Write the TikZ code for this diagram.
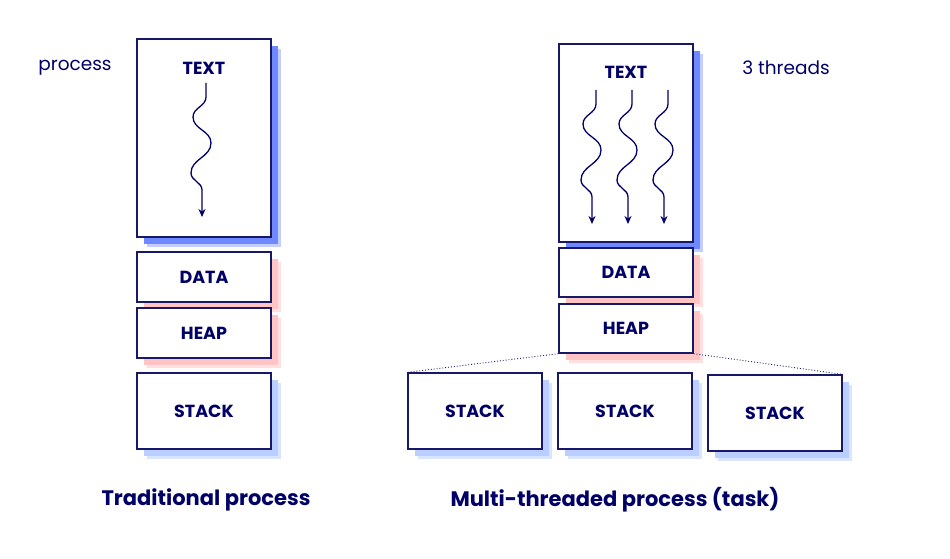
\documentclass[tikz,border=0pt]{standalone}
\usepackage{fontspec}
\setmainfont{Poppins}
\usepackage{tikz}
\usetikzlibrary{arrows.meta,positioning,shadows}
\definecolor{segNavy}{RGB}{0,0,102}
\definecolor{segEdge}{RGB}{24,24,104}
\definecolor{shadeBlue}{RGB}{85,115,255}
\definecolor{shadePink}{RGB}{255,196,196}
\definecolor{shadeSky}{RGB}{186,206,255}

\tikzset{
  seg/.style={draw=segEdge, line width=1.3pt, fill=white, text=segNavy, font=\bfseries\fontsize{17.5}{20}\selectfont, minimum width=134pt},
  textseg/.style={seg, minimum height=198pt, general shadow={fill=shadeBlue!35, shadow xshift=10pt, shadow yshift=-10pt}, general shadow={fill=shadeBlue!85, shadow xshift=7pt, shadow yshift=-7pt}},
  dataseg/.style={seg, minimum height=50pt, general shadow={fill=shadePink!55, shadow xshift=10pt, shadow yshift=-10pt}, general shadow={fill=shadePink, shadow xshift=7pt, shadow yshift=-7pt}},
  stackseg/.style={seg, minimum height=76pt, general shadow={fill=shadeSky!55, shadow xshift=10pt, shadow yshift=-10pt}, general shadow={fill=shadeSky, shadow xshift=7pt, shadow yshift=-7pt}},
  thread/.pic={
    \draw[segNavy, line width=1.3pt, -{Stealth[length=8pt,width=7pt]}] (0,0) -- (0,-14)
      to[out=-90,in=90] (-13,-34) to[out=-90,in=90] (5,-60)
      to[out=-90,in=90] (-15,-90) to[out=-90,in=90] (-4,-107) -- (-4,-134);
  },
  note/.style={text=segNavy, font=\fontsize{18.5}{22}\selectfont},
  caption/.style={text=segNavy, font=\bfseries\fontsize{21}{25}\selectfont}
}

\begin{document}
\begin{tikzpicture}[x=1pt, y=1pt]
  \useasboundingbox (0,0) rectangle (950,558);

  % traditional process
  \node[textseg] (text1) at (204,420) {};
  \node[dataseg] (data1) at (204,281) {DATA};
  \node[dataseg] (heap1) at (204,225) {HEAP};
  \node[stackseg] (stack1) at (204,147) {STACK};
  \node[seg, draw=none, fill=none] (textlbl1) at (204,490) {TEXT};
  \pic at (206,475) {thread};
  \node[note] (proc) at (75,490) {process};
  \node[caption] (cap1) at (206,58) {Traditional process};

  % multi-threaded process
  \node[textseg] (text2) at (626,415) {};
  \node[dataseg, minimum height=49pt] (data2) at (626,285.5) {DATA};
  \node[dataseg, minimum height=49pt] (heap2) at (626,229.5) {HEAP};
  \node[stackseg] (stackA) at (475,147) {STACK};
  \node[stackseg] (stackB) at (625,147) {STACK};
  \node[stackseg] (stackC) at (775,145) {STACK};
  \node[seg, draw=none, fill=none] (textlbl2) at (626,486) {TEXT};
  \foreach \tx in {596,632,668}
    \pic at (\tx,468) {thread};
  \draw[segEdge, dotted, line width=0.9pt] (heap2.south west) -- (stackA.north west);
  \draw[segEdge, dotted, line width=0.9pt] (heap2.south east) -- (stackC.north east);
  \node[note] (thr) at (786,490) {3 threads};
  \node[caption] (cap2) at (615,58) {Multi-threaded process (task)};
\end{tikzpicture}
\end{document}
